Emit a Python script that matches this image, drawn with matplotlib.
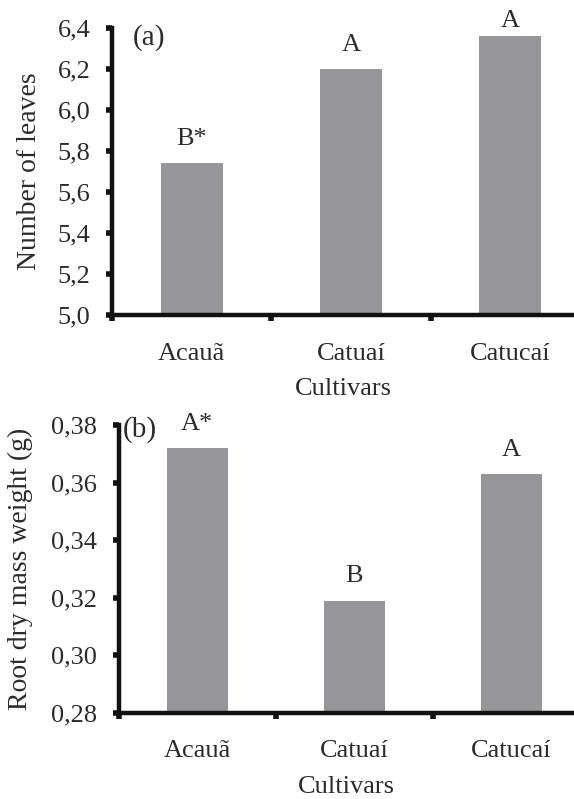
import matplotlib
matplotlib.use("Agg")
import matplotlib.pyplot as plt

cultivars = ["Acauã", "Catuaí", "Catucaí"]
leaves = [5.74, 6.20, 6.36]
leaves_letters = ["B*", "A", "A"]
root_mass = [0.372, 0.319, 0.363]
root_letters = ["A*", "B", "A"]
leaves_ticks = [5.0, 5.2, 5.4, 5.6, 5.8, 6.0, 6.2, 6.4]
root_ticks = [0.28, 0.30, 0.32, 0.34, 0.36, 0.38]

plt.rcParams['font.family'] = ['Liberation Serif', 'DejaVu Serif']
TXT = '#2b2b2b'
BAR = '#96969a'
FS = 19

fig = plt.figure(figsize=(5.74, 7.99), dpi=100)
ax1 = fig.add_axes([0.195, 0.606, 0.805, 0.359])
ax2 = fig.add_axes([0.207, 0.108, 0.793, 0.360])

def style(ax, ticks, fmt, ylim, ylabel, tag, tagx, tagy, labx):
    ax.set_ylim(*ylim)
    ax.set_xlim(-0.5, 2.4)
    for s in ['top', 'right']:
        ax.spines[s].set_visible(False)
    for s in ['left', 'bottom']:
        ax.spines[s].set_linewidth(3.2)
        ax.spines[s].set_color('#111111')
    ax.set_yticks(ticks)
    ax.set_yticklabels([fmt(t).replace('.', ',') for t in ticks], fontsize=FS, color=TXT)
    ax.set_xticks([-0.5, 0.5, 1.5])
    ax.set_xticklabels([])
    ax.set_xticks([0, 1, 2], minor=True)
    ax.set_xticklabels(cultivars, minor=True, fontsize=FS, color=TXT)
    ax.tick_params(axis='x', which='minor', length=0, pad=20)
    ax.tick_params(axis='x', which='major', length=4.5, width=4, color='#111111')
    ax.tick_params(axis='y', length=4.5, width=4, color='#111111', pad=11)
    ax.set_xlabel("Cultivars", fontsize=FS, color=TXT, labelpad=9.5)
    ax.set_ylabel(ylabel, fontsize=20, color=TXT)
    ax.yaxis.set_label_coords(labx, 0.5)
    ax.text(tagx, tagy, tag, transform=ax.transAxes, fontsize=21, color=TXT, va='center', ha='left')

def letters(ax, vals, labs, offsets):
    for i, (v, l, o) in enumerate(zip(vals, labs, offsets)):
        ax.annotate(l, (i, v), xytext=(0, o), textcoords='offset points',
                    ha='center', va='bottom', fontsize=FS, color=TXT, annotation_clip=False)

ax1.bar(range(3), leaves, width=0.39, color=BAR)
style(ax1, leaves_ticks, lambda t: f"{t:.1f}", (5.0, 6.4), "Number of leaves", "(a)", 0.045, 0.965, -0.152)
letters(ax1, leaves, leaves_letters, [9.5, 9.5, 3])

ax2.bar(range(3), root_mass, width=0.39, color=BAR)
style(ax2, root_ticks, lambda t: f"{t:.2f}", (0.28, 0.38), "Root dry mass weight (g)", "(b)", 0.009, 0.983, -0.189)
letters(ax2, root_mass, root_letters, [9.5, 9.5, 9.5])

fig.savefig("out.png", dpi=100)
